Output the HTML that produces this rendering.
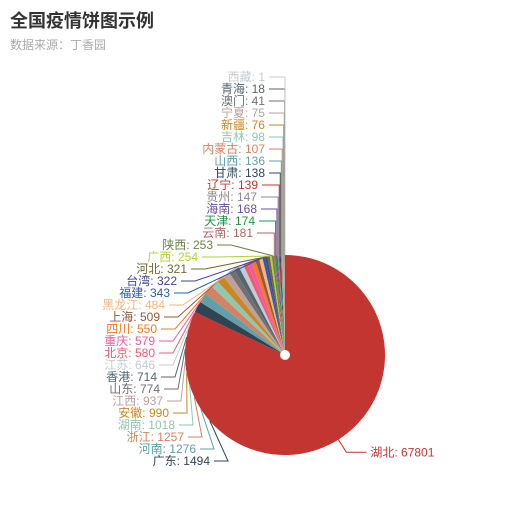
<!DOCTYPE html>
<html><head><meta charset="utf-8">
<style>
html,body{margin:0;padding:0;background:#fff;}
body{width:523px;height:510px;overflow:hidden;font-family:"Liberation Sans","Noto Sans CJK SC",sans-serif;}
#title{position:absolute;left:10px;top:7px;font-size:18px;font-weight:bold;color:#333;}
#sub{position:absolute;left:10px;top:36px;font-size:12px;color:#aaa;}
svg{position:absolute;left:0;top:0;}
</style></head><body>
<div id="title">全国疫情饼图示例</div>
<div id="sub">数据来源：丁香园</div>
<svg id="chart" width="523" height="510" font-family="Liberation Sans, Noto Sans CJK SC, sans-serif" font-size="12"></svg>
<script>
const categories=['湖北','广东','河南','浙江','湖南','安徽','江西','山东','香港','江苏','北京','重庆','四川','上海','黑龙江','福建','台湾','河北','广西','陕西','云南','天津','海南','贵州','辽宁','甘肃','山西','内蒙古','吉林','新疆','宁夏','澳门','青海','西藏'];
const values=[67801,1494,1276,1257,1018,990,937,774,714,646,580,579,550,509,484,343,322,321,254,253,181,174,168,147,139,138,136,107,98,76,75,41,18,1];
const palette=['#c23531','#2f4554','#61a0a8','#d48265','#91c7ae','#ca8622','#bda29a','#6e7074','#546570','#c4ccd3','#f05b72','#ef5b9c','#f47920','#905a3d','#fab27b','#2a5caa','#444693','#726930','#b2d235','#6d8346','#ac6767','#1d953f','#6950a1','#918597'];
// label layout: right edge of label text (index 1..33), layout only
const labelRight=[0,210,196,184,175,169,163,160,157,155,155,155,157,160,165,170,177,187,198,213,253,255,257,257,258,265,265,265,265,265,265,265,265,265];

const svg=document.getElementById('chart');
const NS='http://www.w3.org/2000/svg';
const cx=285,cy=355,R=100;
const total=values.reduce((a,b)=>a+b,0);
function pt(ang,r){return [cx+r*Math.sin(ang),cy-r*Math.cos(ang)];}
let a0=0;
const mids=[];
const gS=document.createElementNS(NS,'g');svg.appendChild(gS);
const gL=document.createElementNS(NS,'g');svg.appendChild(gL);
values.forEach((v,i)=>{
  const a1=a0+v/total*Math.PI*2;
  const p0=pt(a0,R),p1=pt(a1,R);
  const large=(a1-a0)>Math.PI?1:0;
  const path=document.createElementNS(NS,'path');
  path.setAttribute('d',`M${cx},${cy}L${p0[0]},${p0[1]}A${R},${R} 0 ${large} 1 ${p1[0]},${p1[1]}Z`);
  path.setAttribute('fill',palette[i%palette.length]);
  
  
  gS.appendChild(path);
  mids.push((a0+a1)/2);
  a0=a1;
});
// center hole
const hole=document.createElementNS(NS,'circle');
hole.setAttribute('cx',cx);hole.setAttribute('cy',cy);hole.setAttribute('r',5);hole.setAttribute('fill','#fff');


svg.appendChild(hole);

values.forEach((v,i)=>{
  const col=palette[i%palette.length];
  const txt=document.createElementNS(NS,'text');
  let lx,ly;
  if(i===0){
    const e=pt(mids[0],R);
    const m=pt(mids[0],R+15);
    lx=m[0]+20; ly=m[1];
    const line=document.createElementNS(NS,'polyline');
    line.setAttribute('points',`${e[0]},${e[1]} ${m[0]},${m[1]} ${lx},${ly}`);
    line.setAttribute('fill','none');line.setAttribute('stroke',col);
    
    
    gL.appendChild(line);
    txt.setAttribute('x',lx+4);txt.setAttribute('text-anchor','start');
  } else {
    ly=461-12*(i-1);
    const te=labelRight[i];
    let e,m;
    const se=pt(mids[i],R);
    if(i>=20){ e=se; m=[se[0],ly]; }
    else if(i>=15){ e=se; m=[te+18,ly]; }
    else {
      const ey=ly-40; const dx=Math.sqrt(Math.max(0,R*R-(ey-cy)*(ey-cy)));
      e=[cx-dx,ey]; m=[te+18,ly];
    }
    const line=document.createElementNS(NS,'polyline');
    line.setAttribute('points',`${e[0]},${e[1]} ${m[0]},${m[1]} ${te+4},${ly}`);
    line.setAttribute('fill','none');line.setAttribute('stroke',col);
    
    
    gL.appendChild(line);
    txt.setAttribute('x',te);txt.setAttribute('text-anchor','end');
  }
  txt.setAttribute('y',ly+4);
  txt.setAttribute('fill',col);
  txt.textContent=categories[i]+': '+v;
  
  
  gL.appendChild(txt);
});
</script>
</body></html>
